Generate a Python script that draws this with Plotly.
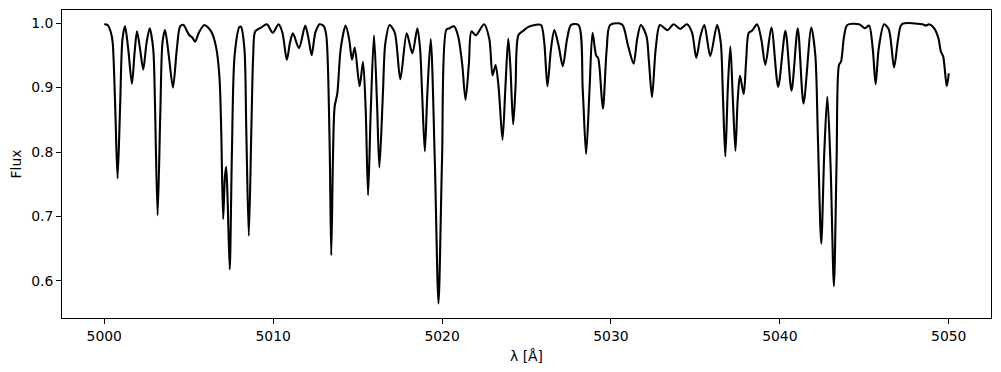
import plotly.graph_objects as go

wavelength = [
    5000.00, 5000.20, 5000.40, 5000.50, 5000.65, 5000.79, 5000.94, 5001.08, 5001.23, 5001.42,
    5001.64, 5001.80, 5001.94, 5002.12, 5002.31, 5002.50, 5002.69, 5002.90, 5003.00, 5003.16,
    5003.32, 5003.45, 5003.60, 5003.82, 5004.07, 5004.30, 5004.50, 5004.70, 5004.85, 5005.04,
    5005.20, 5005.38, 5005.60, 5005.93, 5006.33, 5006.62, 5006.82, 5006.93, 5007.04, 5007.14,
    5007.22, 5007.30, 5007.43, 5007.56, 5007.72, 5008.01, 5008.10, 5008.30, 5008.41, 5008.56,
    5008.71, 5008.82, 5008.94, 5009.29, 5009.63, 5009.98, 5010.32, 5010.55, 5010.81, 5011.00,
    5011.17, 5011.53, 5011.90, 5012.10, 5012.28, 5012.50, 5012.75, 5013.00, 5013.15, 5013.34,
    5013.44, 5013.54, 5013.64, 5013.80, 5014.00, 5014.29, 5014.50, 5014.67, 5014.83, 5015.12,
    5015.32, 5015.48, 5015.62, 5015.78, 5015.97, 5016.15, 5016.29, 5016.50, 5016.64, 5016.90,
    5017.20, 5017.53, 5017.91, 5018.24, 5018.54, 5018.70, 5018.82, 5018.98, 5019.13, 5019.33,
    5019.57, 5019.79, 5020.00, 5020.26, 5020.45, 5020.71, 5020.95, 5021.19, 5021.39, 5021.59,
    5021.74, 5022.00, 5022.49, 5022.80, 5022.99, 5023.17, 5023.35, 5023.58, 5023.75, 5023.92,
    5024.05, 5024.21, 5024.35, 5024.52, 5024.81, 5025.11, 5025.51, 5025.86, 5026.05, 5026.24,
    5026.45, 5026.65, 5026.90, 5027.15, 5027.40, 5027.64, 5028.08, 5028.33, 5028.53, 5028.73,
    5028.91, 5029.12, 5029.25, 5029.52, 5029.75, 5029.95, 5030.65, 5031.00, 5031.34, 5031.55,
    5031.77, 5032.10, 5032.25, 5032.43, 5032.65, 5032.90, 5033.35, 5033.71, 5034.10, 5034.50,
    5034.80, 5035.05, 5035.30, 5035.53, 5035.88, 5036.28, 5036.50, 5036.63, 5036.77, 5036.92,
    5037.07, 5037.22, 5037.37, 5037.50, 5037.64, 5037.86, 5038.00, 5038.16, 5038.35, 5038.65,
    5038.90, 5039.14, 5039.50, 5039.90, 5040.33, 5040.69, 5041.06, 5041.40, 5041.86, 5042.10,
    5042.25, 5042.45, 5042.63, 5042.81, 5043.00, 5043.20, 5043.36, 5043.50, 5043.62, 5043.80,
    5043.99, 5044.69, 5045.04, 5045.28, 5045.50, 5045.67, 5045.85, 5046.17, 5046.45, 5046.76,
    5047.00, 5047.22, 5048.44, 5048.64, 5048.84, 5049.13, 5049.39, 5049.53, 5049.67, 5049.88,
    5050.00,
]

flux = [
    0.998, 0.997, 0.985, 0.970, 0.870, 0.759, 0.870, 0.975, 0.995, 0.960,
    0.906, 0.955, 0.987, 0.960, 0.928, 0.968, 0.992, 0.960, 0.880, 0.702,
    0.860, 0.970, 0.989, 0.950, 0.900, 0.960, 0.995, 0.997, 0.990, 0.981,
    0.978, 0.971, 0.985, 0.997, 0.987, 0.963, 0.917, 0.830, 0.696, 0.760,
    0.777, 0.730, 0.618, 0.800, 0.950, 0.994, 0.994, 0.960, 0.835, 0.670,
    0.835, 0.950, 0.987, 0.993, 0.998, 0.985, 0.998, 0.985, 0.943, 0.970,
    0.984, 0.961, 0.996, 0.975, 0.950, 0.985, 0.998, 0.995, 0.980, 0.819,
    0.640, 0.788, 0.870, 0.891, 0.960, 0.996, 0.975, 0.943, 0.962, 0.902,
    0.940, 0.865, 0.733, 0.865, 0.981, 0.876, 0.776, 0.891, 0.968, 0.997,
    0.985, 0.913, 0.984, 0.953, 0.992, 0.960, 0.891, 0.801, 0.891, 0.975,
    0.788, 0.565, 0.788, 0.990, 0.992, 0.995, 0.980, 0.937, 0.881, 0.937,
    0.987, 0.981, 0.998, 0.975, 0.919, 0.935, 0.900, 0.819, 0.900, 0.976,
    0.930, 0.843, 0.900, 0.981, 0.988, 0.994, 0.997, 0.997, 0.970, 0.902,
    0.960, 0.989, 0.965, 0.933, 0.975, 0.997, 0.997, 0.896, 0.797, 0.896,
    0.985, 0.950, 0.945, 0.867, 0.960, 0.997, 0.998, 0.966, 0.937, 0.975,
    0.997, 0.980, 0.940, 0.885, 0.960, 0.997, 0.989, 0.998, 0.991, 0.998,
    0.985, 0.946, 0.980, 0.997, 0.949, 0.997, 0.970, 0.886, 0.793, 0.900,
    0.964, 0.880, 0.802, 0.880, 0.918, 0.890, 0.940, 0.985, 0.988, 0.998,
    0.975, 0.935, 0.993, 0.901, 0.988, 0.895, 0.992, 0.875, 0.993, 0.950,
    0.824, 0.658, 0.800, 0.886, 0.780, 0.592, 0.788, 0.935, 0.940, 0.979,
    0.997, 0.998, 0.992, 0.996, 0.960, 0.905, 0.960, 0.998, 0.990, 0.931,
    0.975, 0.998, 0.998, 0.996, 0.998, 0.992, 0.976, 0.956, 0.948, 0.902,
    0.922,
]

x_ticks = [5000, 5010, 5020, 5030, 5040, 5050]
y_ticks = [0.6, 0.7, 0.8, 0.9, 1.0]

fig = go.Figure()
fig.add_trace(go.Scatter(
    x=wavelength, y=flux, mode="lines",
    line=dict(color="black", width=2.1, shape="spline", smoothing=0.8),
    showlegend=False, hoverinfo="skip",
))

font = dict(family="DejaVu Sans", size=13.9, color="black")
axis_common = dict(
    showline=True, linecolor="black", linewidth=1, mirror=True,
    ticks="outside", ticklen=4.9, tickwidth=1.1, tickcolor="black",
    showgrid=False, zeroline=False, tickfont=font, automargin=False,
)

# the page body adds an 8px offset, so the figure is sized to fit the window
fig.update_layout(
    width=993, height=364,
    margin=dict(l=54, r=10, t=2, b=54),
    paper_bgcolor="white", plot_bgcolor="white",
    font=font,
    xaxis=dict(range=[4997.5, 5052.5], tickvals=x_ticks,
               ticktext=[str(t) for t in x_ticks],
               title=dict(text="λ [Å]", font=font, standoff=8), **axis_common),
    yaxis=dict(range=[0.5426, 1.0202], tickvals=y_ticks,
               ticktext=[f"{t:.1f}" for t in y_ticks],
               title=dict(text="Flux", font=font, standoff=10), **axis_common),
)

fig.write_html("out.html")
